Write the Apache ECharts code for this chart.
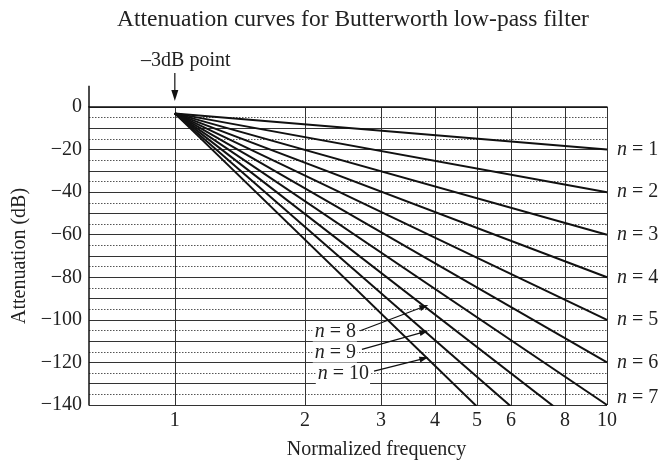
<!DOCTYPE html>
<html>
<head>
<meta charset="utf-8">
<script src="https://cdn.jsdelivr.net/npm/echarts@6/dist/echarts.min.js"></script>
<style>html,body{margin:0;padding:0;background:#fff}#c{width:661px;height:465px}</style>
</head>
<body>
<div id="c"></div>
<script>
// ---- data ----
const orders = [1, 2, 3, 4, 5, 6, 7, 8, 9, 10];
const startFreq = 1;
const startDb = -3;
const endFreq = 10;
const endDb = [-20, -40, -60, -80, -100, -120, -140, -160, -180, -200];
const freqTicks = [1, 2, 3, 4, 5, 6, 8, 10];
const dbLabelTicks = [0, -20, -40, -60, -80, -100, -120, -140];
const calloutOrders = [8, 9, 10];
const calloutTextAt = [[2.64, -105.5], [2.64, -115.3], [2.83, -125.5]];
const calloutFrom = [[2.685, -105.1], [2.71, -113.9], [2.89, -124.1]];
const calloutTo = [[3.86, -93.0], [3.86, -105.1], [3.86, -117.6]];

const FONT = "'Liberation Serif', 'DejaVu Serif', serif";
const TXT = '#222';
const chart = echarts.init(document.getElementById('c'));

const series = orders.map((n, i) => ({
  type: 'line',
  name: 'n=' + n,
  data: [[startFreq, startDb], [endFreq, endDb[i]]],
  symbol: 'none',
  clip: true,
  lineStyle: { color: '#111', width: 2 },
  z: 5,
  endLabel: {
    show: n <= 7,
    formatter: '{i|n} = ' + n,
    distance: 10,
    offset: n === 7 ? [0, -7] : [0, 0],
    color: TXT,
    fontFamily: FONT,
    fontSize: 20,
    rich: { i: { fontStyle: 'italic', fontFamily: FONT, fontSize: 20, color: TXT } }
  }
}));

chart.setOption({
  animation: false,
  title: {
    text: 'Attenuation curves for Butterworth low-pass filter',
    left: 348, top: 3, textAlign: 'center',
    textStyle: { fontFamily: FONT, fontSize: 23.5, fontWeight: 'normal', color: TXT }
  },
  grid: { left: 89, right: 54, top: 107, bottom: 57, containLabel: false },
  xAxis: {
    type: 'log', logBase: 10, min: 0.633, max: 10,
    name: 'Normalized frequency', nameLocation: 'middle', nameGap: 35,
    nameTextStyle: { fontFamily: FONT, fontSize: 20, color: TXT, padding: [0, 0, 0, 57] },
    axisLine: { show: true, lineStyle: { color: '#111', width: 1.5 } },
    axisTick: { show: false, customValues: freqTicks },
    axisLabel: { customValues: freqTicks, formatter: v => String(Math.round(v)), fontFamily: FONT, fontSize: 20, color: TXT, margin: 6 },
    splitLine: { show: true, lineStyle: { color: '#333', width: 1 } },
    minorSplitLine: { show: false }
  },
  yAxis: {
    type: 'value', min: -140, max: 0, interval: 10,
    name: 'Attenuation (dB)', nameLocation: 'middle', nameGap: 55,
    nameTextStyle: { fontFamily: FONT, fontSize: 20, color: TXT },
    axisLine: { show: true, lineStyle: { color: '#111', width: 1.5 } },
    axisTick: { show: false },
    axisLabel: { customValues: dbLabelTicks, formatter: v => v === 0 ? '0' : '\u2212' + Math.abs(v), fontFamily: FONT, fontSize: 20, color: TXT, margin: 7 },
    splitLine: { show: true, lineStyle: { color: '#333', width: 1 } },
    minorTick: { show: false, splitNumber: 2 },
    minorSplitLine: { show: true, lineStyle: { color: '#555', width: 1, type: [1.5, 1.5] } }
  },
  series
});

// ---- annotations positioned through the chart's scales ----
function px(p) { return chart.convertToPixel({ gridIndex: 0 }, p); }
function arrow(a, b, headLen, headW, lw) {
  const dx = b[0] - a[0], dy = b[1] - a[1];
  const L = Math.sqrt(dx * dx + dy * dy);
  const ux = dx / L, uy = dy / L;
  const bx = b[0] - ux * headLen, by = b[1] - uy * headLen;
  const nx = -uy, ny = ux;
  return [
    { type: 'line', shape: { x1: a[0], y1: a[1], x2: bx + ux, y2: by + uy }, style: { stroke: '#111', lineWidth: lw }, z: 20 },
    { type: 'polygon', shape: { points: [[b[0], b[1]], [bx + nx * headW / 2, by + ny * headW / 2], [bx - nx * headW / 2, by - ny * headW / 2]] }, style: { fill: '#111' }, z: 20 }
  ];
}
const g = [];
const p0 = px([startFreq, 0]);
const pxPer10 = px([startFreq, -10])[1] - p0[1];
const leftTop = px([0.633, 0]);
g.push({ type: 'line', shape: { x1: leftTop[0], y1: leftTop[1] - pxPer10, x2: leftTop[0], y2: leftTop[1] }, style: { stroke: '#111', lineWidth: 1.5 }, z: 20 });
g.push(...arrow([p0[0], p0[1] - 34], [p0[0], p0[1] - 6], 11, 7, 1.2));
g.push({ type: 'text', x: p0[0] + 11, y: p0[1] - 46, style: { text: '\u20133dB point', font: '20px ' + FONT, fill: TXT, align: 'center', verticalAlign: 'middle' }, z: 20 });
calloutOrders.forEach((n, i) => {
  const t = px(calloutTextAt[i]);
  const a = px(calloutFrom[i]);
  const b = px(calloutTo[i]);
  g.push(...arrow(a, b, 9, 6, 1.2));
  g.push({ type: 'text', x: t[0], y: t[1], z: 19, style: {
    text: '{i|n} = ' + n, fontFamily: FONT, fontSize: 20, fill: TXT, align: 'right', verticalAlign: 'middle',
    backgroundColor: '#fff', padding: [0, 1, 0, 2],
    rich: { i: { fontStyle: 'italic', fontFamily: FONT, fontSize: 20, fill: TXT } }
  } });
});
chart.setOption({ graphic: g });
</script>
</body>
</html>
